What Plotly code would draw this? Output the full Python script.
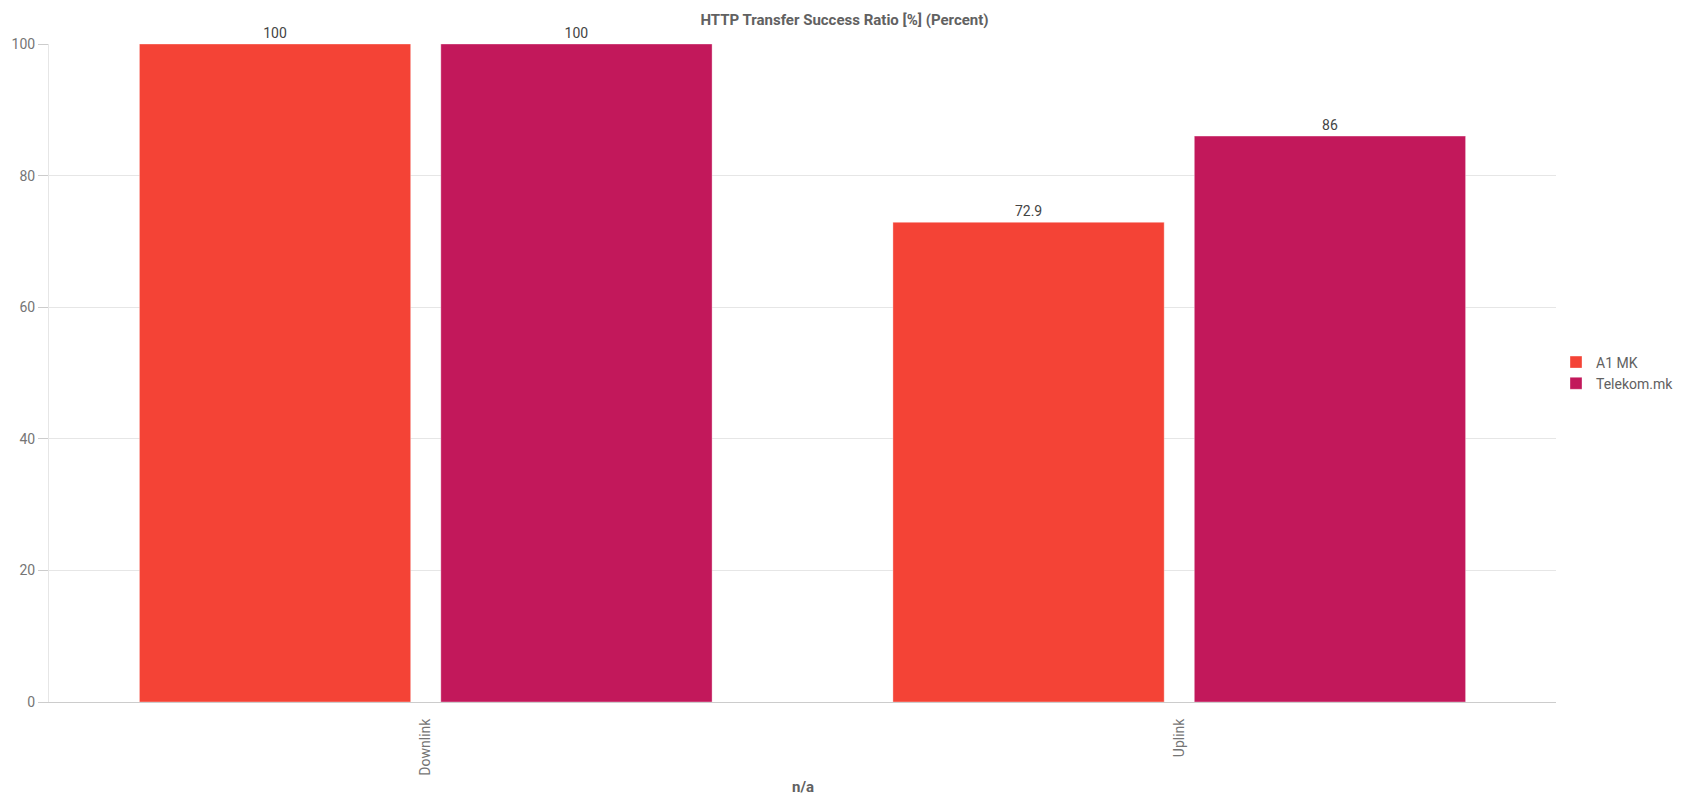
import plotly.graph_objects as go

categories = ["Downlink", "Uplink"]
series_names = ["A1 MK", "Telekom.mk"]
a1_values = [100, 72.9]
telekom_values = [100, 86]
colors = ["#F44336", "#C2185B"]
y_ticks = [0, 20, 40, 60, 80, 100]

fig = go.Figure()
for name, vals, col in zip(series_names, [a1_values, telekom_values], colors):
    fig.add_trace(go.Bar(
        x=categories, y=vals, name=name,
        marker=dict(color=col, line=dict(color="rgba(255,255,255,0.35)", width=1)),
        text=[f"{v:g}" for v in vals], textposition="outside",
        textfont=dict(family="Roboto", size=14, color="#444444"),
        cliponaxis=False,
    ))

W, H = 1673, 787
L, R, T, B = 41, 123, 36, 93
plot_h = H - T - B
fig.update_layout(
    template="none",
    width=W, height=H,
    paper_bgcolor="white", plot_bgcolor="white",
    margin=dict(l=L, r=R, t=T, b=B, pad=0),
    barmode="group", bargap=0.2, bargroupgap=0.1,
    font=dict(family="Roboto", size=14, color="#757575"),
    title=dict(text="<b>HTTP Transfer Success Ratio [%] (Percent)</b>",
               x=0.5, xanchor="center", y=1 - 12/H, yanchor="middle",
               font=dict(family="Roboto", size=15, color="#616161")),
    showlegend=True,
    legend=dict(xref="container", x=1548/W, xanchor="left", y=0.5, yanchor="middle",
                font=dict(family="Roboto", size=14, color="#616161"),
                bgcolor="rgba(0,0,0,0)", borderwidth=0, tracegroupgap=0),
    xaxis=dict(
        automargin=False,
        tickangle=-90, showgrid=False, showline=True, linecolor="#cccccc", linewidth=1,
        tickfont=dict(family="Roboto", size=14, color="#757575"),
        ticks="", ticklabelstandoff=10, zeroline=False,
    ),
    yaxis=dict(
        automargin=False,
        range=[0, 100], tickvals=y_ticks, showgrid=True, gridcolor="#e6e6e6", gridwidth=1,
        zeroline=False, showline=True, linecolor="#e6e6e6",
        ticks="outside", ticklen=10, tickcolor="#cccccc",
        tickfont=dict(family="Roboto", size=14, color="#757575"),
    ),
    annotations=[dict(
        text="<b>n/a</b>", xref="paper", yref="paper", x=0.5, y=-(779 - (H - B)) / plot_h,
        xanchor="center", yanchor="middle", showarrow=False,
        font=dict(family="Roboto", size=15, color="#616161"),
    )],
)

fig.write_html("out.html")
